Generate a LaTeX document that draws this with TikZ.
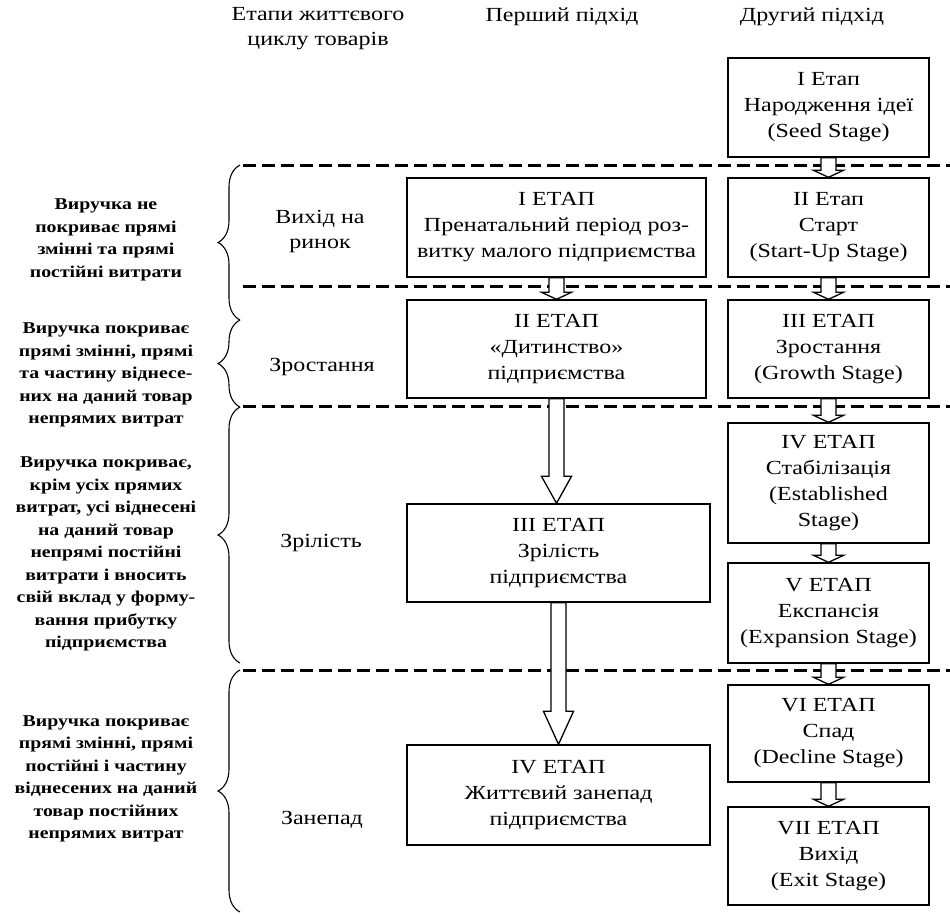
\documentclass[tikz,border=0pt]{standalone}
\usepackage{fontspec}
\setmainfont{Liberation Serif}[FakeStretch=1.2]
\usetikzlibrary{decorations.pathreplacing, calc}

\begin{document}
\begin{tikzpicture}[x=1pt, y=-1pt,
    box/.style={draw, line width=1.4pt, minimum width=201pt, align=center, inner sep=0pt, font=\fontsize{20}{26}\selectfont},
    stage/.style={align=center, font=\fontsize{20}{25}\selectfont},
    note/.style={align=center, font=\bfseries\fontsize{16.5}{22.5}\selectfont},
    sep/.style={line width=3pt, dash pattern=on 13pt off 6pt},
    curly/.style={decorate, decoration={brace, amplitude=22pt}, line width=1.1pt},
    fat/.style={draw, line width=1.3pt, fill=white, to path={let \p1=(\tikztostart), \p2=(\tikztotarget) in
        (\x1-7.5pt,\y1) -- (\x1-7.5pt,\y2+#1) -- (\x1-15pt,\y2+#1) -- (\x1,\y2) -- (\x1+15pt,\y2+#1) -- (\x1+7.5pt,\y2+#1) -- (\x1+7.5pt,\y1) -- cycle}}]
\useasboundingbox (0,0) rectangle (950,914);

\node[stage] (h1) at (318,29) {Етапи життєвого\\циклу товарів};
\node[stage] (h2) at (562,17) {Перший підхід};
\node[stage] (h3) at (812,17) {Другий підхід};

\draw[sep] (243,165) -- (950,165);
\draw[sep] (243,286) -- (950,286);
\draw[sep] (243,406) -- (950,406);
\draw[sep] (243,670) -- (950,670);

\draw[curly] (240,320) -- (240,165);
\draw[curly] (240,407) -- (240,320);
\draw[curly] (240,663) -- (240,407);
\draw[curly] (240,912) -- (240,670);

\node[note] (t1) at (106,240) {Виручка не\\покриває прямі\\змінні та прямі\\постійні витрати};
\node[note] (t2) at (106,375) {Виручка покриває\\прямі змінні, прямі\\та частину віднесе-\\них на даний товар\\непрямих витрат};
\node[note] (t3) at (106,554) {Виручка покриває,\\крім усіх прямих\\витрат, усі віднесені\\на даний товар\\непрямі постійні\\витрати і вносить\\свій вклад у форму-\\вання прибутку\\підприємства};
\node[note] (t4) at (106,779) {Виручка покриває\\прямі змінні, прямі\\постійні і частину\\віднесених на даний\\товар постійних\\непрямих витрат};

\node[stage] (p1) at (320,231) {Вихід на\\ринок};
\node[stage] (p2) at (322,367) {Зростання};
\node[stage] (p3) at (321,543) {Зрілість};
\node[stage] (p4) at (322,820) {Занепад};

\node[box, minimum width=299pt, minimum height=99pt] (L1) at (556.5,227.5) {I ЕТАП\\Пренатальний період роз-\\витку малого підприємства};
\node[box, minimum width=299pt, minimum height=98pt] (L2) at (556.5,349) {II ЕТАП\\«Дитинство»\\підприємства};
\node[box, minimum width=303pt, minimum height=98pt] (L3) at (558.5,553) {III ЕТАП\\Зрілість\\підприємства};
\node[box, minimum width=303pt, minimum height=100pt] (L4) at (558.5,795) {IV ЕТАП\\Життєвий занепад\\підприємства};

\node[box, minimum height=99pt] (R1) at (828.5,107.5) {I Етап\\Народження ідеї\\(Seed Stage)};
\node[box, minimum height=99pt] (R2) at (828.5,227.5) {II Етап\\Старт\\(Start-Up Stage)};
\node[box, minimum height=98pt] (R3) at (828.5,349) {III ЕТАП\\Зростання\\(Growth Stage)};
\node[box, minimum height=120pt] (R4) at (828.5,483) {IV ЕТАП\\Стабілізація\\(Established\\Stage)};
\node[box, minimum height=100pt] (R5) at (828.5,613) {V ЕТАП\\Експансія\\(Expansion Stage)};
\node[box, minimum height=97pt] (R6) at (828.5,733.5) {VI ЕТАП\\Спад\\(Decline Stage)};
\node[box, minimum height=98pt] (R7) at (828.5,856) {VII ЕТАП\\Вихід\\(Exit Stage)};

\draw[fat=7pt] (L1.south) to (L2.north);
\draw[fat=27pt] (L2.south) to (L3.north);
\draw[fat=33pt] (L3.south) to (L4.north);
\draw[fat=7pt] (R1.south) to (R2.north);
\draw[fat=7pt] (R2.south) to (R3.north);
\draw[fat=7pt] (R3.south) to (R4.north);
\draw[fat=7pt] (R4.south) to (R5.north);
\draw[fat=7pt] (R5.south) to (R6.north);
\draw[fat=7pt] (R6.south) to (R7.north);
\end{tikzpicture}
\end{document}
